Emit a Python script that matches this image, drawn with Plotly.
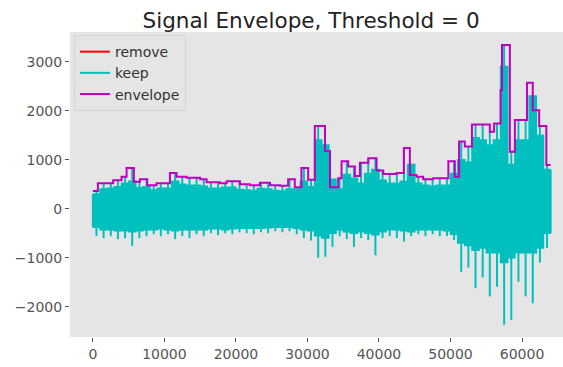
import plotly.graph_objects as go

# ---- envelope: step starts (sample index) and levels ----
env_start = [0, 700, 2840, 4010, 4710, 5730, 6570, 7600, 8900, 10770, 11700,
             13100, 15000, 15900, 17760, 18700, 20560, 21960, 23360, 24760,
             26150, 27300, 28230, 29160, 30100, 31030, 32450, 33150, 34300,
             34770, 35700, 36630, 37330, 38500, 39660, 40600, 42460, 43480,
             44320, 45250, 46180, 47580, 49700, 50600, 51200, 52000, 53000,
             55500, 56100, 57000, 57200, 58300, 59000, 60700, 61500, 62400,
             63400]
env_level = [360, 520, 580, 650, 830, 550, 600, 480, 520, 730, 650,
             630, 600, 540, 520, 560, 500, 480, 530, 480,
             470, 600, 440, 830, 590, 1690, 1180, 440, 620,
             970, 860, 670, 940, 1030, 780, 710, 730, 1240,
             690, 650, 600, 620, 970, 650, 1370, 1270, 1720,
             1570, 1740, 2420, 3340, 1160, 1810, 2570, 2010, 1690,
             890]
signal_end = 64000

# ---- kept signal, summarised per 1000-sample block ----
block_size = 1000
keep_hi = [300, 400, 420, 450, 520, 560, 430, 450, 380, 420,
           420, 560, 500, 480, 480, 460, 420, 420, 440, 440,
           390, 380, 370, 410, 400, 370, 360, 400, 400, 560,
           450, 1400, 1300, 600, 400, 700, 620, 520, 720, 800,
           580, 520, 520, 560, 900, 520, 480, 460, 480, 480,
           720, 1000, 950, 1450, 1400, 1300, 1400, 2900, 900, 1400,
           1400, 2300, 1500, 800]
keep_bot = [-380, -430, -430, -450, -450, -470, -450, -430, -430, -410,
            -430, -450, -430, -430, -430, -430, -410, -410, -430, -410,
            -400, -400, -400, -400, -390, -380, -380, -380, -400, -430,
            -450, -550, -600, -500, -430, -470, -500, -470, -500, -530,
            -470, -430, -430, -450, -470, -430, -430, -430, -430, -450,
            -520, -700, -750, -850, -800, -900, -900, -1100, -1000, -900,
            -900, -900, -800, -500]
keep_min = [-560, -600, -560, -620, -600, -760, -600, -560, -520, -560,
            -520, -620, -560, -600, -520, -560, -500, -540, -500, -520,
            -480, -500, -520, -480, -500, -460, -480, -460, -520, -600,
            -650, -1000, -980, -780, -560, -620, -780, -600, -640, -950,
            -600, -560, -600, -670, -560, -520, -560, -520, -560, -560,
            -640, -1290, -1200, -1620, -1400, -1790, -1590, -2370, -2270, -1490,
            -1790, -1930, -1100, -800]

x_ticks = [0, 10000, 20000, 30000, 40000, 50000, 60000]
y_ticks = [-2000, -1000, 0, 1000, 2000, 3000]

CYAN = "#00BFBF"
MAGENTA = "#BF00BF"
RED = "#FF0000"


def env_at(x):
    val = env_level[0]
    for s, v in zip(env_start, env_level):
        if s <= x:
            val = v
    return val


n_blocks = len(keep_hi)
bx = [i * block_size for i in range(n_blocks)] + [signal_end]

fig = go.Figure()

# "remove" series is empty at this threshold, shown in the legend only
fig.add_trace(go.Scatter(x=[None], y=[None], mode="lines", name="remove",
                         line=dict(color=RED, width=2)))

# dense body of the kept signal
fig.add_trace(go.Scatter(x=bx, y=keep_bot + [keep_bot[-1]], mode="lines",
                         line=dict(color=CYAN, width=1.5, shape="hv"),
                         showlegend=False, hoverinfo="skip"))
fig.add_trace(go.Scatter(x=bx, y=keep_hi + [keep_hi[-1]], mode="lines",
                         line=dict(color=CYAN, width=1.5, shape="hv"),
                         fill="tonexty", fillcolor=CYAN,
                         showlegend=False, hoverinfo="skip"))

# peaks and troughs of each block
sx, sy = [], []
for i in range(n_blocks):
    xc = i * block_size + block_size // 2
    sx += [xc, xc, None]
    sy += [keep_min[i], env_at(xc), None]
# edges of the signal
sx += [0, 0, None, signal_end, signal_end]
sy += [keep_bot[0], keep_hi[0], None, keep_bot[-1], keep_hi[-1]]
fig.add_trace(go.Scatter(x=sx, y=sy, mode="lines", name="keep",
                         line=dict(color=CYAN, width=2)))

# envelope step line
fig.add_trace(go.Scatter(x=env_start + [signal_end],
                         y=env_level + [env_level[-1]], mode="lines",
                         name="envelope",
                         line=dict(color=MAGENTA, width=2, shape="hv")))

axis_common = dict(showgrid=False, zeroline=False, showline=False,
                   ticks="outside", ticklen=4, tickwidth=1,
                   tickcolor="#555555",
                   tickfont=dict(family="DejaVu Sans", size=14,
                                 color="#555555"))

fig.update_layout(
    width=563, height=367,
    margin=dict(l=70, r=0, t=32, b=30),
    paper_bgcolor="white", plot_bgcolor="#E5E5E5",
    title=dict(text="Signal Envelope, Threshold = 0",
               font=dict(family="DejaVu Sans", size=21.5, color="#222222"),
               x=0.489, xref="paper", xanchor="center",
               y=1 - 20 / 367, yref="container", yanchor="middle"),
    xaxis=dict(range=[-3200, 65730], tickvals=x_ticks,
               ticktext=[str(v) for v in x_ticks], **axis_common),
    yaxis=dict(range=[-2618, 3606], tickvals=y_ticks,
               ticktext=[str(v).replace("-", "\u2212") for v in y_ticks],
               **axis_common),
    legend=dict(x=0.008, y=0.99, xanchor="left", yanchor="top",
                traceorder="normal",
                bgcolor="#E5E5E5", bordercolor="#D5D5D5", borderwidth=1,
                font=dict(family="DejaVu Sans", size=14, color="#333333"),
                itemwidth=30, tracegroupgap=0),
    showlegend=True,
)

fig.write_html("out.html")
